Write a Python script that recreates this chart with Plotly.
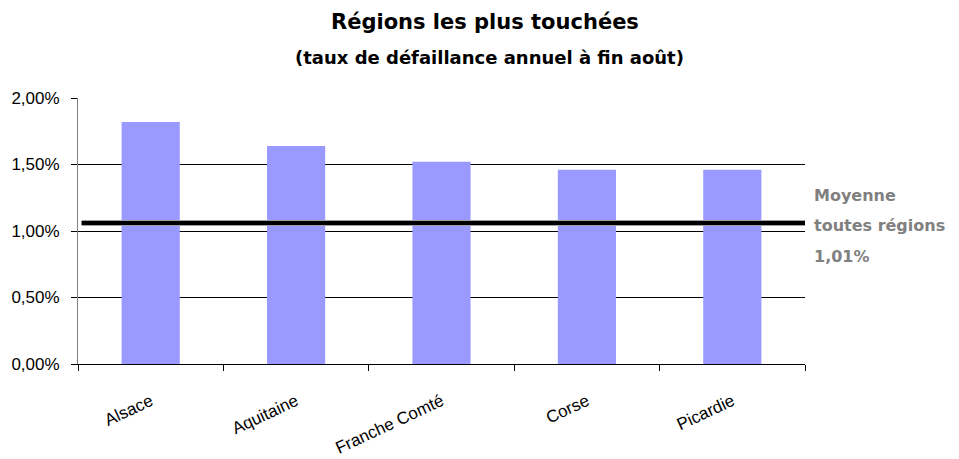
import plotly.graph_objects as go

regions = ["Alsace", "Aquitaine", "Franche Comté", "Corse", "Picardie"]
taux = [1.82, 1.64, 1.52, 1.46, 1.46]
moyenne = 1.06
moyenne_label = ["Moyenne", "toutes régions", "1,01%"]
y_ticks = [0, 0.5, 1.0, 1.5, 2.0]
y_tick_labels = ["0,00%", "0,50%", "1,00%", "1,50%", "2,00%"]
title_text = "Régions les plus touchées"
subtitle_text = "(taux de défaillance annuel à fin août)"

font_family = "DejaVu Sans, Arial, sans-serif"
tick_family = "Liberation Sans, Arial, sans-serif"

fig = go.Figure()
fig.add_trace(go.Bar(x=regions, y=taux, marker=dict(color="#9999FF", line=dict(width=0)),
                     width=0.4, hoverinfo="x+y"))

# average line (with slight gray edge)
fig.add_shape(type="line", xref="paper", x0=0.005, x1=1, yref="y", y0=moyenne, y1=moyenne,
              line=dict(color="#A0A0A0", width=6), layer="above")
fig.add_shape(type="line", xref="paper", x0=0.005, x1=1, yref="y", y0=moyenne, y1=moyenne,
              line=dict(color="black", width=4), layer="above")

label_y = [0.635, 0.519, 0.406]
for txt, yy in zip(moyenne_label, label_y):
    fig.add_annotation(text=txt, xref="paper", yref="paper", x=1.01, y=yy,
                       xanchor="left", yanchor="middle", showarrow=False,
                       font=dict(family=font_family, size=16, color="#808080", weight="bold"))

fig.add_annotation(text=title_text, xref="paper", yref="paper", x=0.56, y=1.286,
                   xanchor="center", yanchor="middle", showarrow=False,
                   font=dict(family=font_family, size=21, color="black", weight="bold"))
fig.add_annotation(text=subtitle_text, xref="paper", yref="paper", x=0.566, y=1.154,
                   xanchor="center", yanchor="middle", showarrow=False,
                   font=dict(family=font_family, size=18, color="black", weight="bold"))

fig.update_layout(
    width=951, height=451,
    margin=dict(l=70, r=154, t=90, b=95, autoexpand=False),
    paper_bgcolor="white", plot_bgcolor="white",
    showlegend=False,
    font=dict(family=tick_family, size=17, color="black"),
    xaxis=dict(
        tickangle=-25, tickson="boundaries", ticks="outside", ticklen=6, tickcolor="black",
        showline=True, linecolor="black", linewidth=1, showgrid=False,
        ticklabelstandoff=20, automargin=False,
        tickfont=dict(family=tick_family, size=17, color="black"), range=[-0.5, 4.5]),
    yaxis=dict(
        range=[0, 2.0], tickvals=y_ticks, ticktext=y_tick_labels,
        ticks="outside", ticklen=6, tickcolor="black",
        showline=True, linecolor="#808080", linewidth=1,
        showgrid=True, gridcolor="black", gridwidth=1, zeroline=False,
        ticklabelstandoff=8, automargin=False,
        tickfont=dict(family=tick_family, size=17, color="black")),
    bargap=0.6,
)

fig.write_html("out.html")
